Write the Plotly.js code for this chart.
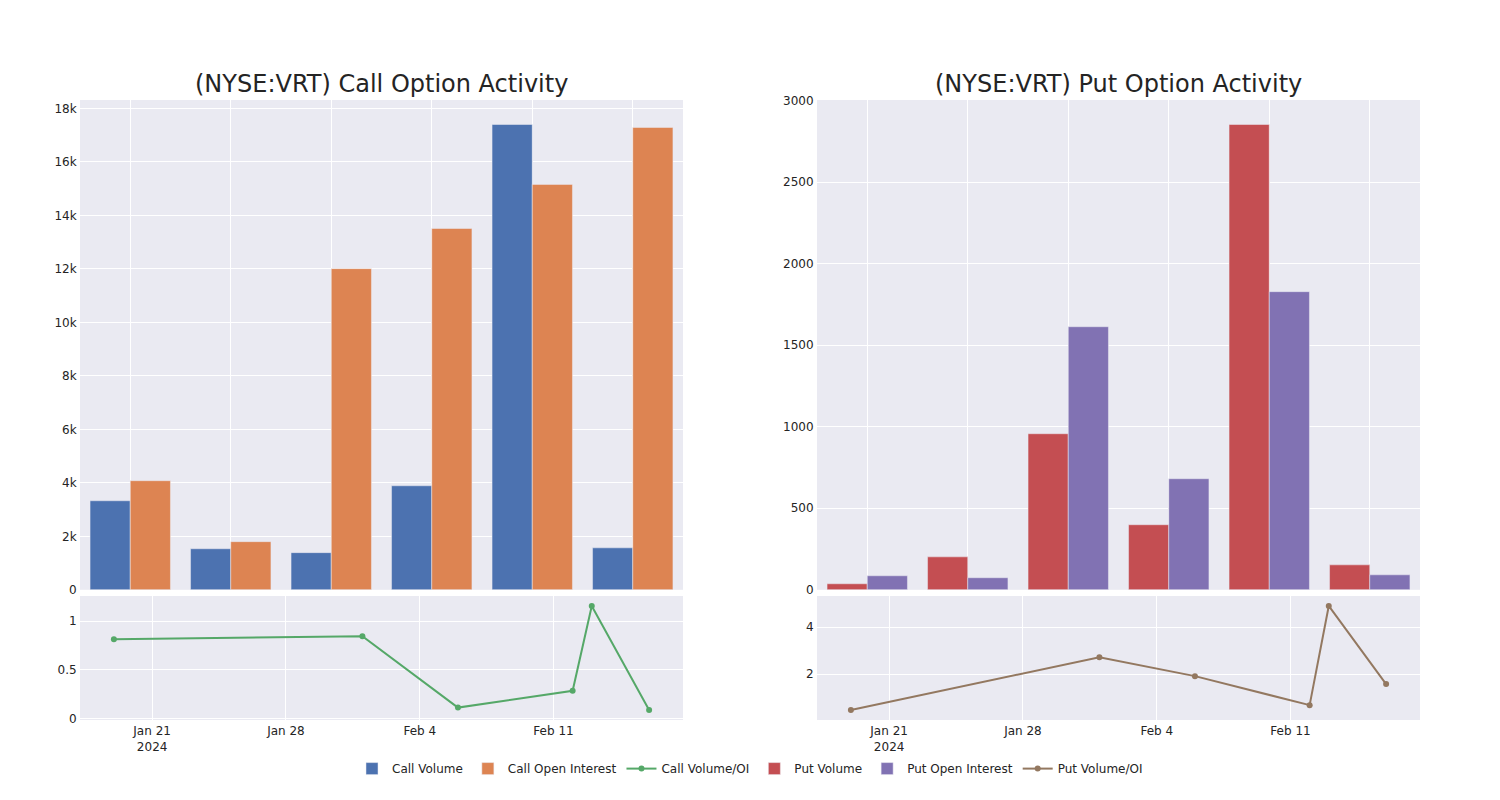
<!DOCTYPE html>
<html>
<head>
<meta charset="utf-8">
<script src="https://cdn.plot.ly/plotly-3.0.1.min.js"></script>
<style>html,body{margin:0;padding:0;background:#fff;}#chart{width:1500px;height:800px;}</style>
</head>
<body>
<div id="chart"></div>
<script>
// Dates of the option activity snapshots
const dates = ["2024-01-19", "2024-02-01", "2024-02-06", "2024-02-12", "2024-02-13", "2024-02-16"];

// Call side
const callVolume = [3330, 1535, 1390, 3890, 17400, 1570];
const callOpenInterest = [4080, 1800, 12010, 13510, 15160, 17290];
const callVolOI = [0.814, 0.845, 0.114, 0.286, 1.155, 0.089];

// Put side
const putVolume = [37, 202, 957, 399, 2853, 153];
const putOpenInterest = [86, 74, 1613, 681, 1828, 92];
const putVolOI = [0.46, 2.72, 1.91, 0.67, 4.91, 1.57];

const titles = ["(NYSE:VRT) Call Option Activity", "(NYSE:VRT) Put Option Activity"];

const C = {blue:"#4C72B0", orange:"#DD8452", green:"#55A868", red:"#C44E52", purple:"#8172B3", brown:"#937860"};
const barLine = {color:"#EAEAF2", width:0.5};

const traces = [
  {type:"bar", name:"Call Volume", x:dates, y:callVolume, xaxis:"x", yaxis:"y", marker:{color:C.blue, line:barLine}},
  {type:"bar", name:"Call Open Interest", x:dates, y:callOpenInterest, xaxis:"x", yaxis:"y", marker:{color:C.orange, line:barLine}},
  {type:"scatter", mode:"lines+markers", name:"Call Volume/OI", x:dates, y:callVolOI, xaxis:"x3", yaxis:"y3", line:{color:C.green, width:2}, marker:{color:C.green, size:6}},
  {type:"bar", name:"Put Volume", x:dates, y:putVolume, xaxis:"x2", yaxis:"y2", marker:{color:C.red, line:barLine}},
  {type:"bar", name:"Put Open Interest", x:dates, y:putOpenInterest, xaxis:"x2", yaxis:"y2", marker:{color:C.purple, line:barLine}},
  {type:"scatter", mode:"lines+markers", name:"Put Volume/OI", x:dates, y:putVolOI, xaxis:"x4", yaxis:"y4", line:{color:C.brown, width:2}, marker:{color:C.brown, size:6}}
];

const axBase = {gridcolor:"white", linecolor:"white", zeroline:false, ticks:"", tickfont:{size:12, color:"rgb(36,36,36)"}, automargin:false};

const layout = {
  width:1500, height:800,
  margin:{l:80, r:80, t:100, b:80},
  paper_bgcolor:"white", plot_bgcolor:"rgb(234,234,242)",
  font:{family:"'DejaVu Sans', sans-serif", color:"rgb(36,36,36)"},
  barmode:"group", bargap:0.2, bargroupgap:0,
  showlegend:true,
  legend:{orientation:"h", x:0.5, xanchor:"center", y:-0.055, yanchor:"top", font:{size:12}},
  xaxis: Object.assign({}, axBase, {domain:[0,0.45], anchor:"y", type:"category", showticklabels:false}),
  yaxis: Object.assign({}, axBase, {domain:[0.21,1], anchor:"x"}),
  xaxis2: Object.assign({}, axBase, {domain:[0.55,1], anchor:"y2", type:"category", showticklabels:false}),
  yaxis2: Object.assign({}, axBase, {domain:[0.21,1], anchor:"x2"}),
  xaxis3: Object.assign({}, axBase, {domain:[0,0.45], anchor:"y3", type:"date"}),
  yaxis3: Object.assign({}, axBase, {domain:[0,0.2], anchor:"x3"}),
  xaxis4: Object.assign({}, axBase, {domain:[0.55,1], anchor:"y4", type:"date"}),
  yaxis4: Object.assign({}, axBase, {domain:[0,0.2], anchor:"x4"}),
  annotations:[
    {text:titles[0], xref:"paper", yref:"paper", x:0.225, y:1, xanchor:"center", yanchor:"bottom", showarrow:false, font:{size:24}},
    {text:titles[1], xref:"paper", yref:"paper", x:0.775, y:1, xanchor:"center", yanchor:"bottom", showarrow:false, font:{size:24}}
  ]
};

Plotly.newPlot("chart", traces, layout, {displayModeBar:false});
</script>
</body>
</html>
